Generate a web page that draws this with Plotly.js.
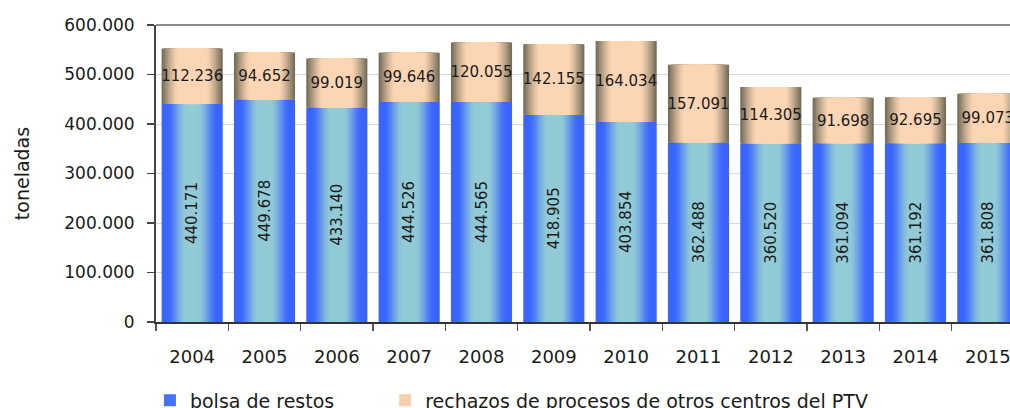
<!DOCTYPE html>
<html>
<head>
<meta charset="utf-8">
<script src="https://cdn.plot.ly/plotly-3.0.1.min.js"></script>
<style>
html,body{margin:0;padding:0;overflow:hidden;background:#fff;width:1010px;height:408px;}
#chart{width:1030px;height:430px;}
</style>
</head>
<body>
<div id="chart"></div>
<script>
// ---- data ----
const years = ["2004","2005","2006","2007","2008","2009","2010","2011","2012","2013","2014","2015"];
const bolsaDeRestos = [440171, 449678, 433140, 444526, 444565, 418905, 403854, 362488, 360520, 361094, 361192, 361808];
const rechazosPTV = [112236, 94652, 99019, 99646, 120055, 142155, 164034, 157091, 114305, 91698, 92695, 99073];
const seriesNames = ["bolsa de restos", "rechazos de procesos de otros centros del PTV"];

// ---- style ----
const FONT = "DejaVu Sans, Verdana, sans-serif";
const BAR_W = 0.845;
const N_LAYERS = 18;
const blueEdge = [58, 100, 255], blueCenter = [146, 202, 214];
const peachEdge = [118, 110, 90], peachCenter = [252, 214, 180];

function lerp(a, b, t) { return a.map((v, i) => Math.round(v + (b[i] - v) * t)); }
function rgb(c) { return "rgb(" + c.join(",") + ")"; }
function smooth(t) { t = Math.max(0, Math.min(1, t)); return t * t * (3 - 2 * t); }

const bases2 = bolsaDeRestos.slice();
const traces = [];

function addGradient(values, bases, center, edge, fnT, legendName, legendLayer, legendId) {
  for (let i = 0; i < N_LAYERS; i++) {
    const d = 1 - i / N_LAYERS;             // normalized distance from bar center
    const col = lerp(center, edge, fnT(d));
    traces.push({
      type: "bar", x: years, y: values, base: bases,
      width: BAR_W * d,
      marker: { color: rgb(col), line: { width: 0 } },
      name: legendName, legendgroup: legendName, legend: legendId,
      showlegend: i === legendLayer,
      hoverinfo: "skip"
    });
  }
}
addGradient(bolsaDeRestos, bolsaDeRestos.map(() => 0), blueCenter, blueEdge,
  d => smooth((d - 0.22) / 0.65), seriesNames[0], 5, "legend");
addGradient(rechazosPTV, bases2, peachCenter, peachEdge,
  d => Math.pow(Math.max(0, (d - 0.5) / 0.5), 1.3), seriesNames[1], 8, "legend2");

// text traces (transparent, full width)
traces.push({
  type: "bar", x: years, y: bolsaDeRestos, base: bolsaDeRestos.map(() => 0), width: BAR_W,
  marker: { color: "rgba(0,0,0,0)" }, showlegend: false, hoverinfo: "skip",
  texttemplate: "%{y:,.0f}", textposition: "inside", insidetextanchor: "middle",
  textangle: -90, textfont: { family: FONT, size: 16, color: "#1a1a1a" }
});
traces.push({
  type: "bar", x: years, y: rechazosPTV, base: bases2, width: BAR_W,
  marker: { color: "rgba(0,0,0,0)" }, showlegend: false, hoverinfo: "skip",
  texttemplate: "%{y:,.0f}", textposition: "inside", insidetextanchor: "middle",
  textangle: 0, textfont: { family: FONT, size: 15, color: "#1a1a1a" }
});

const legendBase = {
  orientation: "h", xanchor: "left", y: -0.2, yanchor: "top",
  font: { family: FONT, size: 19, color: "#1a1a1a" },
  itemclick: false, bgcolor: "rgba(0,0,0,0)"
};

const layout = {
  width: 1030, height: 430,
  margin: { l: 156, r: 6, t: 25, b: 108 },
  paper_bgcolor: "#fff", plot_bgcolor: "#fff",
  barmode: "overlay",
  separators: ",.",
  uniformtext: { mode: "show", minsize: 15 },
  font: { family: FONT, size: 17, color: "#1a1a1a" },
  showlegend: true,
  legend: Object.assign({}, legendBase, { x: -0.007 }),
  legend2: Object.assign({}, legendBase, { x: 0.264 }),
  xaxis: {
    type: "category", range: [-0.5, 11.5], fixedrange: true,
    showline: true, linecolor: "#333", linewidth: 1.5,
    ticks: "outside", tickson: "boundaries", ticklen: 7, tickcolor: "#555", tickwidth: 1.5,
    ticklabelstandoff: 18,
    showgrid: false,
    tickfont: { family: FONT, size: 18, color: "#1a1a1a" }
  },
  yaxis: {
    range: [0, 600000], dtick: 100000, tickformat: ",.0f", fixedrange: true,
    showline: true, linecolor: "#444", linewidth: 2,
    ticks: "outside", ticklen: 7, tickcolor: "#444", tickwidth: 1.5,
    ticklabelstandoff: 9,
    gridcolor: "#d9d9d9", gridwidth: 1, zeroline: false,
    tickfont: { family: FONT, size: 17, color: "#1a1a1a" },
    title: { text: "toneladas", font: { family: FONT, size: 19, color: "#1a1a1a" }, standoff: 30 }
  },
  shapes: [{
    type: "line", xref: "paper", yref: "paper", x0: 0, x1: 1, y0: 1, y1: 1,
    line: { color: "#8c8c8c", width: 2 }, layer: "below"
  }]
};

Plotly.newPlot("chart", traces, layout, { staticPlot: true, displayModeBar: false });
</script>
</body>
</html>
